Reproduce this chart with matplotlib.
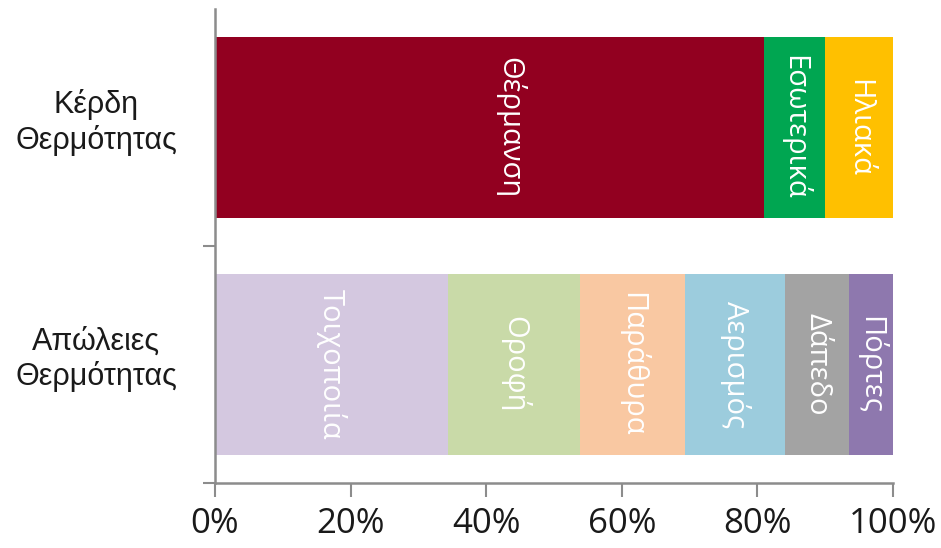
import matplotlib
matplotlib.use("Agg")
import matplotlib.pyplot as plt
import matplotlib.transforms as mtransforms
from matplotlib.ticker import FixedLocator, FuncFormatter, NullFormatter

# Heat balance of a building: shares of gains and losses (%)
rows = ["Απώλειες\nΘερμότητας", "Κέρδη\nΘερμότητας"]

gain_labels = ["Θέρμανση", "Εσωτερικά", "Ηλιακά"]
gain_values = [81.0, 9.0, 10.0]
gain_colors = ["#920020", "#00A651", "#FFC000"]

loss_labels = ["Τοιχοποιία", "Οροφή", "Παράθυρα", "Αερισμός", "Δάπεδο", "Πόρτες"]
loss_values = [34.4, 19.5, 15.4, 14.8, 9.4, 6.5]
loss_colors = ["#D4C8E0", "#C9DAA8", "#F9C8A2", "#9CCCDD", "#A3A3A3", "#8E78AE"]

xticks = [0, 20, 40, 60, 80, 100]

fig = plt.figure(figsize=(9.41, 5.48), dpi=100)
ax = fig.add_axes([215 / 941, 1 - 483 / 548, 678 / 941, 474 / 548])

bar_h = 0.765
spine_col = "#8c8c8c"


def stacked(ypos, labels, values, colors, shift=None):
    left = 0.0
    for i, (lab, val, col) in enumerate(zip(labels, values, colors)):
        ax.barh(ypos, val, left=left, height=bar_h, color=col, edgecolor="none")
        tr = ax.transData
        if shift and i in shift:
            tr = tr + mtransforms.ScaledTranslation(shift[i], 0, fig.dpi_scale_trans)
        ax.text(left + val / 2, ypos, lab, rotation=-90, ha="center", va="center",
                color="white", fontsize=21, family="Open Sans", transform=tr)
        left += val


# the wide heating segment has its label nudged right a little
stacked(1, gain_labels, gain_values, gain_colors, shift={0: 0.2})
stacked(0, loss_labels, loss_values, loss_colors)

ax.set_xlim(0, 100)
ax.set_ylim(-0.5, 1.5)

for side in ("top", "right"):
    ax.spines[side].set_visible(False)
for side in ("left", "bottom"):
    ax.spines[side].set_color(spine_col)
    ax.spines[side].set_linewidth(1.8)

ax.xaxis.set_major_locator(FixedLocator(xticks))
ax.xaxis.set_major_formatter(FuncFormatter(lambda v, p: f"{v:.0f}%"))
ax.tick_params(axis="x", direction="out", length=10, width=1.5, color=spine_col,
               pad=7, labelsize=25)
for t in ax.get_xticklabels():
    t.set_family("Open Sans")
    t.set_color("#1a1a1a")

# category separators on the y axis
ax.yaxis.set_major_locator(FixedLocator([-0.5, 0.5]))
ax.yaxis.set_major_formatter(NullFormatter())
ax.tick_params(axis="y", which="major", direction="out", length=9, width=1.5,
               color=spine_col)

# category names, left of the axis
label_tr = mtransforms.blended_transform_factory(ax.transAxes, ax.transData) + \
    mtransforms.ScaledTranslation(-0.38, 0.05, fig.dpi_scale_trans)
for ypos, name in enumerate(rows):
    ax.text(0, ypos, name, transform=label_tr, ha="right", va="center",
            multialignment="center", linespacing=1.2, fontsize=22,
            family="Liberation Sans", color="#1a1a1a")

fig.savefig("out.png", dpi=100)
